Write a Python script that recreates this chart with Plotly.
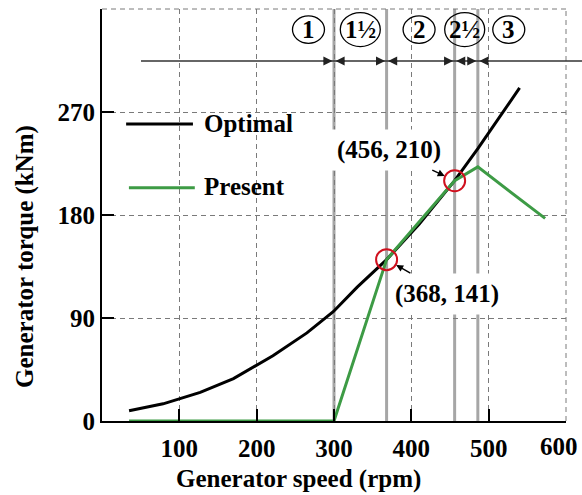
import plotly.graph_objects as go

# Generator speed (rpm) and torque (kNm) along the optimal curve
speed_optimal = [35, 79, 127, 170, 221, 265, 299, 330, 368, 410, 456, 486, 540]
torque_optimal = [9, 15, 25, 37, 57, 77, 95.5, 117, 141, 172, 210, 238, 291]

# Present torque schedule
speed_present = [35, 300, 368, 405, 456, 486, 573]
torque_present = [0, 0, 141, 170, 210, 222, 177]

# Marked operating points
point_speed = [368, 456]
point_torque = [141, 210]

# Region boundaries and their labels
boundary_speed = [300, 368, 456, 486]
region_label = ["1", "1½", "2", "2½", "3"]
region_center = [267, 334, 410, 469, 526]
region_wide = [False, True, False, True, False]

x_ticks = [100, 200, 300, 400, 500, 600]
x_tick_text = ["100", "200", "300", "400", "500", ""]   # last label placed by hand so it stays on the page
x_last_label = "600"
y_ticks = [0, 90, 180, 270]

FONT = "Liberation Serif, Times New Roman, serif"
GREEN = "#3d9b45"
RED = "#d0101e"
GRID = "#7a7a7a"
DASH = "5,4"
BAND_Y = 314.6
LABEL_Y = 342

fig = go.Figure()

fig.add_trace(go.Scatter(x=speed_optimal, y=torque_optimal, mode="lines",
                         line=dict(color="black", width=3), name="Optimal"))
fig.add_trace(go.Scatter(x=speed_present, y=torque_present, mode="lines",
                         line=dict(color=GREEN, width=3), name="Present"))
fig.add_trace(go.Scatter(x=point_speed, y=point_torque, mode="markers",
                         marker=dict(symbol="circle-open", size=21, color=RED,
                                     line=dict(width=2, color=RED)),
                         showlegend=False))

shapes = []
# grey region boundaries
for s in boundary_speed:
    shapes.append(dict(type="line", xref="x", yref="y", x0=s, x1=s, y0=0, y1=360,
                       line=dict(color="#a6a6a6", width=3), layer="below"))
# dashed top and right frame
shapes.append(dict(type="line", xref="paper", yref="paper", x0=0, x1=1, y0=1, y1=1,
                   line=dict(color=GRID, width=1, dash=DASH)))
shapes.append(dict(type="line", xref="paper", yref="paper", x0=1, x1=1, y0=0, y1=1,
                   line=dict(color=GRID, width=1, dash=DASH)))
# horizontal region band line
shapes.append(dict(type="line", xref="paper", yref="y", x0=0.084, x1=1.035,
                   y0=BAND_Y, y1=BAND_Y, line=dict(color="#333333", width=1.5)))
# circles around region numbers
for c, wide in zip(region_center, region_wide):
    w, h = (20, 17) if wide else (16, 13.7)
    shapes.append(dict(type="circle", xref="x", yref="y",
                       xsizemode="pixel", ysizemode="pixel",
                       xanchor=c, yanchor=LABEL_Y, x0=-w, x1=w, y0=-h, y1=h,
                       line=dict(color="black", width=1.3)))
# legend keys
shapes.append(dict(type="line", xref="paper", yref="paper", x0=0.052, x1=0.196,
                   y0=0.721, y1=0.721, line=dict(color="black", width=3)))
shapes.append(dict(type="line", xref="paper", yref="paper", x0=0.058, x1=0.2,
                   y0=0.566, y1=0.566, line=dict(color=GREEN, width=3)))

annotations = []
tfont = dict(family=FONT, size=25, color="black", weight="bold")
for c, t in zip(region_center, region_label):
    annotations.append(dict(x=c, y=LABEL_Y, xref="x", yref="y", text=t, showarrow=False,
                            font=tfont, xanchor="center", yanchor="middle"))
# arrowheads on the band line pointing at each boundary
for s in boundary_speed:
    for off in (-12, 12):
        annotations.append(dict(x=s, y=BAND_Y, xref="x", yref="y", text="",
                                showarrow=True, ax=off, ay=0, arrowhead=2,
                                arrowsize=1.3, arrowwidth=1.4, arrowcolor="#222222",
                                standoff=1.5))
# point labels
annotations.append(dict(x=456, y=210, xref="x", yref="y", text="(456, 210)",
                        showarrow=True, ax=-66, ay=-31, arrowhead=2, arrowsize=1,
                        arrowwidth=1.4, arrowcolor="black", standoff=11,
                        bgcolor="white", borderpad=6, font=tfont))
annotations.append(dict(x=368, y=141, xref="x", yref="y", text="(368, 141)",
                        showarrow=True, ax=60, ay=34, arrowhead=2, arrowsize=1,
                        arrowwidth=1.4, arrowcolor="black", standoff=11,
                        bgcolor="white", borderpad=6, font=tfont))
# legend text
annotations.append(dict(x=0.215, y=0.723, xref="paper", yref="paper", text="Optimal",
                        showarrow=False, xanchor="left", yanchor="middle", font=tfont))
annotations.append(dict(x=0.215, y=0.568, xref="paper", yref="paper", text="Present",
                        showarrow=False, xanchor="left", yanchor="middle", font=tfont))
# last x tick label, kept inside the page edge
annotations.append(dict(x=1.0, y=-0.0631, xref="paper", yref="paper", text=x_last_label,
                        showarrow=False, xanchor="center", yanchor="middle",
                        xshift=-7, font=tfont))
# axis titles
annotations.append(dict(x=0.4235, y=-0.1408, xref="paper", yref="paper",
                        text="Generator speed (rpm)", showarrow=False,
                        xanchor="center", yanchor="middle", font=tfont))
annotations.append(dict(x=-0.166, y=0.4005, xref="paper", yref="paper",
                        text="Generator torque (kNm)", showarrow=False, textangle=-90,
                        xanchor="center", yanchor="middle", font=tfont))

axis_common = dict(showgrid=True, gridcolor=GRID, gridwidth=1, griddash=DASH,
                   showline=True, linecolor="black", linewidth=2, ticks="inside",
                   ticklen=12, tickwidth=1.5, tickcolor="black", zeroline=False,
                   automargin=False,
                   tickfont=dict(family=FONT, size=25, color="black", weight="bold"))

fig.update_layout(
    width=582, height=495,
    margin=dict(l=102, r=16, t=9, b=74, autoexpand=False),
    paper_bgcolor="white", plot_bgcolor="white",
    showlegend=False,
    font=dict(family=FONT, size=25, color="black"),
    xaxis=dict(range=[0, 600], tickvals=x_ticks, ticktext=x_tick_text,
               ticklabelstandoff=4, **axis_common),
    yaxis=dict(range=[0, 360], tickvals=y_ticks, **axis_common),
    shapes=shapes, annotations=annotations,
)

fig.write_html("out.html")
